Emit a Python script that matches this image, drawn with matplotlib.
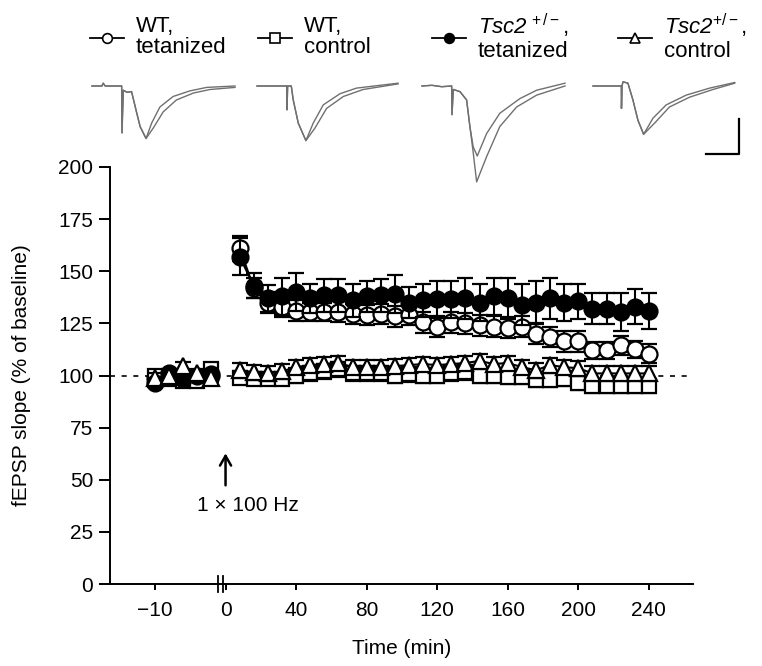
import numpy as np
import matplotlib.pyplot as plt
from matplotlib.lines import Line2D
from matplotlib.transforms import blended_transform_factory

plt.rcParams['font.family'] = ['Liberation Sans', 'DejaVu Sans']
plt.rcParams['mathtext.fontset'] = 'custom'
plt.rcParams['mathtext.rm'] = 'Liberation Sans'
plt.rcParams['mathtext.it'] = 'Liberation Sans:italic'
# italic digits: mathtext puts digits of \mathit in roman, so use bf slot as italic
plt.rcParams['mathtext.bf'] = 'Liberation Sans:italic'

W, H = 762, 666

# --- data (fEPSP slope, % of baseline) ---
base_t = [-10, -8, -6, -4, -2]
post_t = [8, 16, 24, 32, 40, 48, 56, 64, 72, 80, 88, 96, 104, 112, 120,
          128, 136, 144, 152, 160, 168, 176, 184, 192, 200, 208, 216, 224, 232, 240]

wt_tet_base = [99, 100.5, 100, 99.5, 100]
wt_tet_post = [161, 142, 135, 133, 131, 130.5, 130.5, 130.5, 129.5, 129, 129.5, 128.5, 129, 125.5, 123.5,
               125.5, 125, 124, 123.5, 123, 123.5, 120, 118.5, 116.5, 116.5, 112, 112, 114.5, 112.5, 110.5]
wt_tet_err = [6, 5, 5, 5, 5, 4.5, 4.5, 5, 5, 5, 5, 5, 5, 5, 5,
              5, 5, 5, 5, 5, 5, 5, 5, 5, 5, 4, 4, 4.5, 4, 4.5]

wt_ctl_base = [100, 98.5, 97.5, 97.5, 103]
wt_ctl_post = [99, 98.5, 98.5, 98.5, 100, 101, 102, 103, 101, 101, 101, 100, 100.5, 100, 100,
               101, 101.5, 100, 100, 99.5, 99.5, 98, 98, 98.5, 96.5, 95, 95, 95, 95, 95]
wt_ctl_err = [3, 3, 3, 3, 3.5, 3.5, 3.5, 3.5, 3.5, 3.5, 3.5, 3.5, 3.5, 3.5, 3.5,
              3.5, 3.5, 3.5, 3.5, 3.5, 3.5, 3.5, 3.5, 3.5, 3.5, 3.5, 3.5, 3.5, 3.5, 3.5]

tsc_tet_base = [96.5, 101, 98.5, 100, 100.5]
tsc_tet_post = [157, 143, 137, 138, 140, 137, 138.5, 138.5, 136, 138, 138.5, 139, 135, 136, 136.5,
                136.5, 137, 135, 138, 137, 134, 135, 137, 135, 135.5, 132, 132, 130.5, 133, 131]
tsc_tet_err = [9, 6, 6.5, 9, 9, 7, 8, 8, 8, 7.5, 8, 9, 7.5, 8, 9,
               9, 10, 9, 9, 10, 10, 10.5, 10, 9, 8.5, 7.5, 7.5, 9, 8.5, 8.5]

tsc_ctl_base = [99, 100, 104.5, 101, 99]
tsc_ctl_post = [102.5, 101.5, 101, 102, 104, 105, 105.5, 106, 104, 104, 104, 104.5, 105, 105.5, 105,
                105.5, 106, 107, 105.5, 106, 104, 102.5, 105, 104, 103.5, 101, 101, 101, 101, 101]
tsc_ctl_err = [3.5] * 30

base_err = [2, 2, 2, 2, 2]

xtick_vals = [-10, 0, 40, 80, 120, 160, 200, 240]

# --- example traces (ms, mV): onset, then the two recordings ---
tr1_on = [(0, 0), (1.5, 0), (1.7, 0.04), (2.0, 0), (4.5, 0), (4.55, -0.67), (4.75, -0.06),
          (5.3, -0.09), (6.0, -0.08), (6.8, -0.39), (7.3, -0.58), (8.2, -0.75)]
tr1_a = [(8.2, -0.75), (9.05, -0.53), (10.3, -0.30), (12.3, -0.15), (14.85, -0.07), (17.4, -0.02), (21.7, 0)]
tr1_b = [(8.2, -0.75), (9.3, -0.6), (10.8, -0.37), (12.8, -0.20), (15.4, -0.10), (17.9, -0.05), (21.7, -0.02)]

tr2_on = [(0, 0), (4.5, 0), (4.55, -0.34), (4.65, 0), (5.2, 0), (5.5, -0.2), (6.26, -0.53), (7.42, -0.78)]
tr2_a = [(7.42, -0.78), (8.53, -0.53), (10.05, -0.27), (12.6, -0.11), (15.1, -0.03), (21.4, 0.04)]
tr2_b = [(7.42, -0.78), (8.8, -0.6), (10.56, -0.32), (13.1, -0.15), (16.1, -0.05), (21.4, 0.03)]

tr3_on = [(0, 0), (1.5, 0.01), (3.0, -0.01), (4.5, 0), (4.55, -0.41), (4.75, -0.05),
          (5.76, -0.08), (6.77, -0.2), (7.27, -0.58)]
tr3_a = [(7.27, -0.58), (7.77, -0.87), (8.38, -1.0), (9.8, -0.68), (11.8, -0.39), (14.85, -0.18),
         (17.4, -0.06), (21.7, 0.04)]
tr3_b = [(7.27, -0.58), (7.77, -0.95), (8.29, -1.37), (9.8, -1.01), (11.8, -0.58), (14.35, -0.3),
         (17.4, -0.13), (21.7, 0)]

tr4_on = [(0, 0), (4.3, 0), (4.32, -0.32), (4.4, 0), (4.55, 0.06), (5.3, 0.04), (6.06, -0.2),
          (6.82, -0.49), (7.68, -0.69)]
tr4_a = [(7.68, -0.69), (9.1, -0.46), (11.1, -0.27), (14.15, -0.13), (17.7, -0.03), (21.5, 0.05)]
tr4_b = [(7.68, -0.69), (9.35, -0.53), (11.6, -0.3), (14.65, -0.16), (18.2, -0.05), (21.5, 0.04)]


def xpos(t):
    # baseline period is drawn 4x wider than the post-tetanus period
    t = np.asarray(t, float)
    return np.where(t < 0, 4 * t, t)


fig = plt.figure(figsize=(W / 100, H / 100), dpi=100)
ax = fig.add_axes([110 / W, 1 - 584 / H, 583 / W, 417 / H])

ax.axhline(100, color='k', lw=1.2, ls=(0, (3, 4)), zorder=1)

series = [
    (wt_tet_base, wt_tet_post, wt_tet_err, 'o', 'white', 11.5),
    (wt_ctl_base, wt_ctl_post, wt_ctl_err, 's', 'white', 10.5),
    (tsc_tet_base, tsc_tet_post, tsc_tet_err, 'o', 'black', 11.5),
    (tsc_ctl_base, tsc_ctl_post, tsc_ctl_err, '^', 'white', 11.5),
]
z = 3
for b, p, e, m, fc, ms in series:
    for tt, yy, ee in [(base_t, b, base_err), (post_t, p, e)]:
        ax.errorbar(xpos(tt), yy, yerr=ee, color='k', lw=1.5, marker=m, ms=ms,
                    mfc=fc, mec='k', mew=1.6, capsize=5.5, capthick=1.5,
                    elinewidth=1.5, zorder=z)
    z += 1

ax.set_xlim(-65.5, 265)
ax.set_ylim(0, 200)
ax.set_yticks(np.arange(0, 201, 25))
ax.set_xticks(xpos(xtick_vals))
ax.set_xticklabels([str(v).replace('-', '\u2212') for v in xtick_vals])
ax.spines['top'].set_visible(False)
ax.spines['right'].set_visible(False)
for s in ['left', 'bottom']:
    ax.spines[s].set_linewidth(1.4)
ax.tick_params(axis='y', length=8, width=1.4, labelsize=15, pad=4)
ax.tick_params(axis='x', length=4, width=1.4, labelsize=15, pad=8)
ax.set_xlabel('Time (min)', fontsize=15, labelpad=14)
ax.set_ylabel('fEPSP slope (% of baseline)', fontsize=15)
ax.yaxis.set_label_coords(-0.135, 0.5)

# axis break marks
tr = blended_transform_factory(ax.transData, ax.transAxes)
for bx in [-4.5, -1.5]:
    ax.plot([bx, bx], [-0.02, 0.02], color='k', lw=1.3, transform=tr, clip_on=False)

# stimulation arrow
ax.annotate('', xy=(0, 64), xytext=(0, 46),
            arrowprops=dict(arrowstyle='->,head_length=0.7,head_width=0.4', lw=1.8, color='k'))
ax.text(12.5, 37.5, '1 \u00d7 100 Hz', fontsize=15, ha='center', va='center')

# legend
leg_x = [90, 258, 432, 618]
leg_lab = ['WT,\ntetanized', 'WT,\ncontrol',
           r'$\mathbf{Tsc2}^{\,+/-}$,' + '\ntetanized', r'$\mathbf{Tsc2}^{+/-}$,' + '\ncontrol']
leg_mk = [('o', 'white'), ('s', 'white'), ('o', 'black'), ('^', 'white')]
ly = 1 - 38 / H
for x0, lab, (m, fc) in zip(leg_x, leg_lab, leg_mk):
    fig.add_artist(Line2D([x0 / W, (x0 + 34) / W], [ly, ly], color='k', lw=1.3,
                          transform=fig.transFigure))
    fig.add_artist(Line2D([(x0 + 17) / W], [ly], marker=m, ms=7, mfc=fc, mec='k', mew=1.2,
                          transform=fig.transFigure))
    fig.text((x0 + 46) / W, ly + 1 / H, lab, fontsize=16, ha='left', va='center', linespacing=1.05)

# traces
tr_x = [92, 257, 422, 593]
traces = [(tr1_on, tr1_a, tr1_b), (tr2_on, tr2_a, tr2_b), (tr3_on, tr3_a, tr3_b), (tr4_on, tr4_a, tr4_b)]
tax = None
for x0, (on, a, b) in zip(tr_x, traces):
    tax = fig.add_axes([x0 / W, 1 - 191 / H, 145 / W, 112 / H])
    tax.set_xlim(0, 22)
    tax.set_ylim(-1.5, 0.1)
    tax.axis('off')
    for br in (a, b):
        pts = np.array(on + br[1:])
        tax.plot(pts[:, 0], pts[:, 1], color='#707070', lw=1.0, clip_on=False)

# scale bar (5 ms, 0.5 mV)
tax.plot([17.1, 22.1, 22.1], [-0.97, -0.97, -0.47], color='k', lw=1.6, clip_on=False)

fig.savefig('out.png', dpi=100)
